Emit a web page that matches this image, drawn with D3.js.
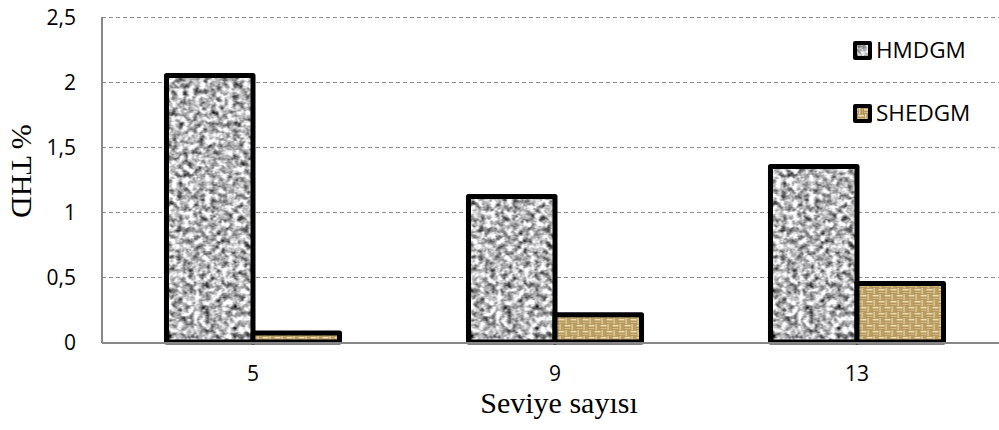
<!DOCTYPE html>
<html>
<head>
<meta charset="utf-8">
<script src="https://cdn.jsdelivr.net/npm/d3@7"></script>
<style>
  html, body { margin: 0; padding: 0; background: #fff; }
  svg { display: block; }
</style>
</head>
<body>
<svg id="chart" width="999" height="430"></svg>
<script>
// ---- data ----
const categories = ["5", "9", "13"];
const seriesNames = ["HMDGM", "SHEDGM"];
const hmdgm = [2.05, 1.12, 1.35];
const shedgm = [0.07, 0.21, 0.45];
const yTicks = [0, 0.5, 1, 1.5, 2, 2.5];
const yTickLabels = ["0", "0,5", "1", "1,5", "2", "2,5"];
const xTitle = "Seviye sayısı";
const yTitle = "% THD";

// ---- layout ----
const svg = d3.select("#chart");
const L = 102, R = 1008, T = 17, B = 342;

const defs = svg.append("defs");
// granite texture (one tile covers the whole picture, so no seams)
const TW = 1000, TH = 430;
const f = defs.append("filter").attr("id", "fNoise")
  .attr("filterUnits", "userSpaceOnUse").attr("x", 0).attr("y", 0)
  .attr("width", TW).attr("height", TH)
  .attr("color-interpolation-filters", "sRGB");
f.append("feTurbulence").attr("type", "fractalNoise")
  .attr("baseFrequency", 0.18).attr("numOctaves", 3).attr("seed", 11);
f.append("feColorMatrix").attr("type", "matrix")
  .attr("values", "0.92 0.92 0.92 0 -0.66  0.92 0.92 0.92 0 -0.66  0.92 0.92 0.92 0 -0.65  0 0 0 0 1");
const pg = defs.append("pattern").attr("id", "pGranite")
  .attr("patternUnits", "userSpaceOnUse").attr("width", TW).attr("height", TH);
pg.append("rect").attr("width", TW).attr("height", TH).attr("filter", "url(#fNoise)");

// woven texture
const S = 12, h = S / 2;
const pw = defs.append("pattern").attr("id", "pWoven")
  .attr("patternUnits", "userSpaceOnUse").attr("width", S).attr("height", S);
pw.append("rect").attr("width", S).attr("height", S).attr("fill", "#806030");
[[0,0],[h,h]].forEach(([ox, oy]) => {
  pw.append("rect").attr("x", ox).attr("y", oy + 0.5).attr("width", h).attr("height", 2.2).attr("fill", "#f0dfaa");
  pw.append("rect").attr("x", ox).attr("y", oy + 3.4).attr("width", h).attr("height", 2.2).attr("fill", "#d6bc80");
});
[[h,0],[0,h]].forEach(([ox, oy]) => {
  pw.append("rect").attr("x", ox + 0.5).attr("y", oy).attr("width", 2.2).attr("height", h).attr("fill", "#e8d49a");
  pw.append("rect").attr("x", ox + 3.4).attr("y", oy).attr("width", 2.2).attr("height", h).attr("fill", "#c9ac6c");
});

const fills = ["url(#pGranite)", "url(#pWoven)"];

// ---- scales ----
const y = d3.scaleLinear().domain([0, 2.5]).range([B, T]);
const x0 = d3.scaleBand().domain(categories).range([L, R])
  .paddingInner(0.427).paddingOuter(0.2135);
const x1 = d3.scaleBand().domain(seriesNames).range([0, x0.bandwidth()]);

// ---- gridlines ----
const grid = svg.append("g").attr("transform", `translate(${L},0)`)
  .call(d3.axisLeft(y).tickValues(yTicks.filter(d => d > 0)).tickSize(-(R - L)).tickFormat(""));
grid.select(".domain").remove();
grid.selectAll("line").attr("stroke", "#8c8c8c").attr("stroke-width", 1.2)
  .attr("stroke-dasharray", "4,3");

// ---- y tick labels ----
const ya = svg.append("g").attr("transform", `translate(${L},0)`)
  .call(d3.axisLeft(y).tickValues(yTicks).tickSize(0).tickPadding(26)
    .tickFormat((d, i) => yTickLabels[i]));
ya.select(".domain").remove();
ya.selectAll("text").attr("font-family", "'Open Sans', sans-serif")
  .attr("font-size", 21).attr("fill", "#000").attr("dy", "0.36em");

// ---- bars ----
const rows = categories.map((c, i) => ({ cat: c, vals: [hmdgm[i], shedgm[i]] }));
const gCat = svg.append("g").selectAll("g").data(rows).join("g")
  .attr("transform", d => `translate(${x0(d.cat)},0)`);
gCat.selectAll("rect").data(d => d.vals.map((v, j) => ({ s: seriesNames[j], v, j })))
  .join("rect")
  .attr("x", d => x1(d.s))
  .attr("y", d => y(d.v))
  .attr("width", x1.bandwidth())
  .attr("height", d => B - y(d.v))
  .attr("fill", d => fills[d.j])
  .attr("stroke", "#000").attr("stroke-width", 5).attr("stroke-linejoin", "round");

// ---- axis lines ----
svg.append("line").attr("x1", L).attr("x2", L).attr("y1", T).attr("y2", B + 1)
  .attr("stroke", "#878787").attr("stroke-width", 2);
svg.append("line").attr("x1", L).attr("x2", R).attr("y1", B + 1).attr("y2", B + 1)
  .attr("stroke", "#878787").attr("stroke-width", 2);

// ---- x tick labels ----
const xa = svg.append("g").attr("transform", `translate(0,${B})`)
  .call(d3.axisBottom(x0).tickSize(0).tickPadding(0));
xa.select(".domain").remove();
xa.selectAll("text").attr("font-family", "'Open Sans', sans-serif")
  .attr("font-size", 21).attr("fill", "#000").attr("y", 39).attr("dy", 0);

// ---- axis titles ----
svg.append("text").attr("x", 559).attr("y", 413)
  .attr("text-anchor", "middle").attr("font-family", "'Liberation Serif', 'Times New Roman', serif")
  .attr("font-size", 30).attr("fill", "#000").text(xTitle);
svg.append("text").attr("transform", "translate(12,171) rotate(90)")
  .attr("text-anchor", "middle").attr("font-family", "'Liberation Serif', 'Times New Roman', serif")
  .attr("font-size", 30).attr("fill", "#000").text(yTitle);

// ---- legend ----
const lg = svg.append("g");
const legendY = [43, 106];
seriesNames.forEach((n, i) => {
  lg.append("rect").attr("x", 855).attr("y", legendY[i]).attr("width", 15).attr("height", 15)
    .attr("fill", fills[i]).attr("stroke", "#000").attr("stroke-width", 4)
    .attr("stroke-linejoin", "round");
  lg.append("text").attr("x", 876).attr("y", legendY[i] + 15)
    .attr("font-family", "'Open Sans', sans-serif").attr("font-size", 22.5)
    .attr("fill", "#000").text(n);
});
</script>
</body>
</html>
